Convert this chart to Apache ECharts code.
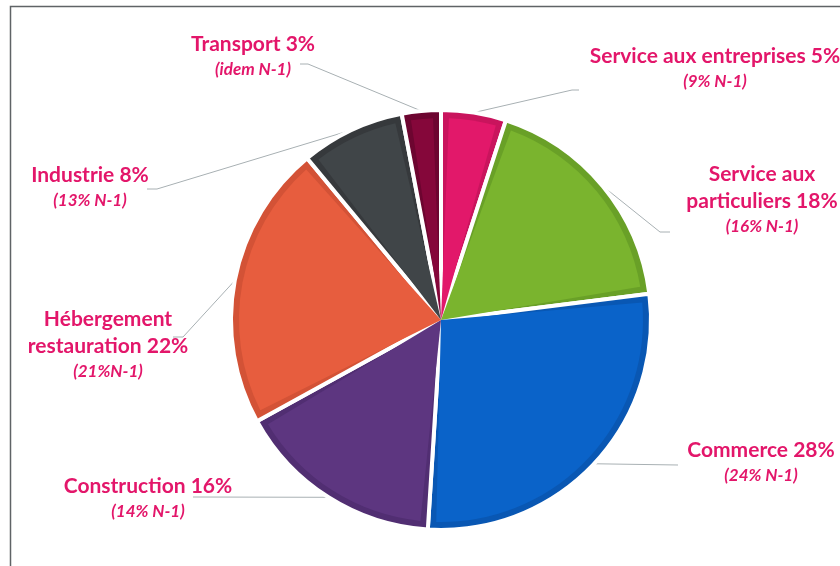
<!DOCTYPE html>
<html>
<head>
<meta charset="utf-8">
<script src="https://cdn.jsdelivr.net/npm/echarts@6/dist/echarts.min.js"></script>
<style>
  html, body { margin: 0; padding: 0; background: #fff; }
  #main { width: 840px; height: 566px; }
</style>
</head>
<body>
<div id="main"></div>
<script>
// parts des secteurs (année N), en %
var categories = ['Service aux entreprises', 'Service aux particuliers', 'Commerce', 'Construction', 'Hébergement restauration', 'Industrie', 'Transport'];
var shares = [5, 18, 28, 16, 22, 8, 3];
var titles = ['Service aux entreprises 5%', 'Service aux\nparticuliers 18%', 'Commerce 28%', 'Construction 16%', 'Hébergement\nrestauration 22%', 'Industrie 8%', 'Transport 3%'];
var previousYear = ['(9% N-1)', '(16% N-1)', '(24% N-1)', '(14% N-1)', '(21%N-1)', '(13% N-1)', '(idem N-1)'];

var mainColors = ['#e2186a', '#7ab42e', '#0a63c9', '#5d3680', '#e75d3e', '#404548', '#85073a'];
var edgeColors = ['#c9145d', '#69a027', '#0957b3', '#512e72', '#d35236', '#36393c', '#6d0530'];
var labelColor = '#e3166a';

// position des étiquettes (centre x, haut du bloc) et coudes des traits
var labelPos = [[715, 43], [762, 161], [761, 437], [148, 473], [108, 306], [90, 162], [253, 31]];
var elbows = [[[572, 90], [579, 90]], [[660, 232], [670, 232]], [[678, 465], [678, 465]], [[193, 497], [193, 497]],
              [[183, 337], [173, 337]], [[157, 189], [147, 189]], [[308, 64], [300, 64]]];

var chart = echarts.init(document.getElementById('main'));

var dataDark = categories.map(function (c, i) {
  return { name: c, value: shares[i], itemStyle: { color: edgeColors[i] } };
});
var dataMain = categories.map(function (c, i) {
  return { name: c, value: shares[i], itemStyle: { color: mainColors[i] } };
});

var option = {
  animation: false,
  graphic: [{
    type: 'rect',
    z: -10,
    shape: { x: 10.5, y: 6.5, width: 900, height: 620 },
    style: { fill: 'none', stroke: '#5f6366', lineWidth: 1.5 }
  }],
  series: [{
    //fond plus foncé + étiquettes
    type: 'pie',
    center: [441, 320],
    radius: [0, 210],
    startAngle: 90,
    clockwise: true,
    data: dataDark,
    itemStyle: { borderColor: '#fff', borderWidth: 4 },
    emphasis: { disabled: true },
    label: {
      show: true,
      position: 'outside',
      formatter: function (p) {
        var lines = titles[p.dataIndex].split('\n').map(function (t) { return '{a|' + t + '}'; });
        return lines.join('\n') + '\n{b|' + previousYear[p.dataIndex] + '}';
      },
      rich: {
        a: { fontFamily: 'Lato', fontWeight: 'bold', fontSize: 21, lineHeight: 27, color: labelColor },
        b: { fontFamily: 'Lato', fontWeight: 'bold', fontStyle: 'italic', fontSize: 17, lineHeight: 24, color: labelColor }
      }
    },
    labelLine: { show: true, length: 20, length2: 10, lineStyle: { color: '#a8b0b3', width: 1 } },
    labelLayout: function (params) {
      var i = params.dataIndex;
      var pts = params.labelLinePoints;
      var start = pts && pts[0] ? pts[0] : elbows[i][0];
      return {
        x: labelPos[i][0],
        y: labelPos[i][1],
        align: 'center',
        verticalAlign: 'top',
        labelLinePoints: [start, elbows[i][0], elbows[i][1]]
      };
    }
  }, {
    //remplissage principal
    type: 'pie',
    center: [441, 320],
    radius: [0, 202],
    startAngle: 90,
    clockwise: true,
    padAngle: 4.5,
    data: dataMain,
    silent: true,
    emphasis: { disabled: true },
    label: { show: false },
    labelLine: { show: false }
  }]
};

chart.setOption(option);
</script>
</body>
</html>
